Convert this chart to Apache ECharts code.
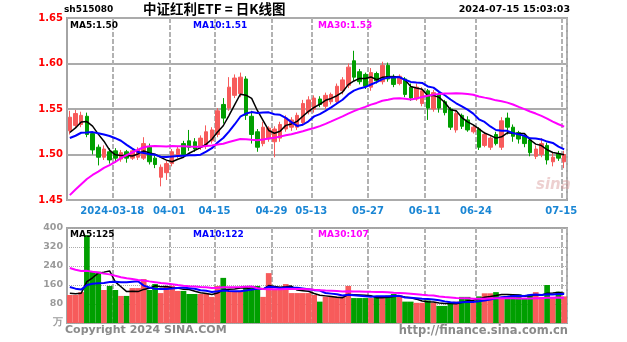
<!DOCTYPE html>
<html>
<head>
<meta charset="utf-8">
<script src="https://cdn.jsdelivr.net/npm/echarts@6/dist/echarts.min.js"></script>
<style>
html,body{margin:0;padding:0;background:#fff;}
#chart{width:627px;height:342px;}
</style>
</head>
<body>
<div id="chart"></div>
<script>
// trading sessions shown on the chart
const dates = [
  '2024-03-06','2024-03-07','2024-03-08','2024-03-11','2024-03-12','2024-03-13','2024-03-14','2024-03-15',
  '2024-03-18','2024-03-19','2024-03-20','2024-03-21','2024-03-22','2024-03-25','2024-03-26','2024-03-27',
  '2024-03-28','2024-03-29',
  '2024-04-01','2024-04-02','2024-04-03','2024-04-08','2024-04-09','2024-04-10','2024-04-11','2024-04-12',
  '2024-04-15','2024-04-16','2024-04-17','2024-04-18','2024-04-19','2024-04-22','2024-04-23','2024-04-24',
  '2024-04-25','2024-04-26','2024-04-29','2024-04-30',
  '2024-05-06','2024-05-07','2024-05-08','2024-05-09','2024-05-10','2024-05-13','2024-05-14','2024-05-15',
  '2024-05-16','2024-05-17','2024-05-20','2024-05-21','2024-05-22','2024-05-23','2024-05-24','2024-05-27',
  '2024-05-28','2024-05-29','2024-05-30','2024-05-31',
  '2024-06-03','2024-06-04','2024-06-05','2024-06-06','2024-06-07','2024-06-11','2024-06-12','2024-06-13',
  '2024-06-14','2024-06-17','2024-06-18','2024-06-19','2024-06-20','2024-06-21','2024-06-24','2024-06-25',
  '2024-06-26','2024-06-27','2024-06-28',
  '2024-07-01','2024-07-02','2024-07-03','2024-07-04','2024-07-05','2024-07-08','2024-07-09','2024-07-10',
  '2024-07-11','2024-07-12','2024-07-15'
];

const openP = [
  1.526,1.532,1.533,1.542,1.523,1.508,1.497,1.503,1.504,1.495,1.503,1.496,1.497,1.496,1.508,1.496,
  1.475,1.480,1.490,1.499,1.512,1.515,1.514,1.508,1.510,1.515,1.522,1.555,1.551,1.565,1.567,1.583,
  1.542,1.525,1.512,1.517,1.514,1.518,1.528,1.530,1.530,1.535,1.547,1.550,1.561,1.553,1.558,1.558,
  1.570,1.576,1.603,1.591,1.588,1.574,1.589,1.580,1.598,1.585,1.578,1.583,1.574,1.561,1.556,1.570,
  1.550,1.566,1.558,1.550,1.527,1.543,1.538,1.525,1.528,1.510,1.508,1.522,1.508,1.540,1.530,1.524,
  1.520,1.516,1.498,1.500,1.510,1.492,1.501,1.492
];
const closeP = [
  1.541,1.545,1.543,1.522,1.505,1.497,1.506,1.494,1.496,1.502,1.496,1.504,1.505,1.512,1.492,1.489,
  1.486,1.490,1.503,1.506,1.500,1.508,1.506,1.518,1.525,1.527,1.548,1.540,1.574,1.584,1.585,1.543,
  1.522,1.508,1.530,1.529,1.528,1.533,1.540,1.538,1.543,1.556,1.560,1.562,1.555,1.565,1.566,1.575,
  1.582,1.596,1.585,1.580,1.575,1.590,1.581,1.598,1.583,1.577,1.586,1.566,1.562,1.574,1.570,1.551,
  1.568,1.551,1.546,1.530,1.545,1.531,1.527,1.530,1.508,1.522,1.518,1.512,1.537,1.530,1.520,1.517,
  1.512,1.502,1.506,1.512,1.494,1.497,1.496,1.500
];
const highP = [
  1.548,1.549,1.547,1.546,1.525,1.511,1.510,1.507,1.507,1.505,1.505,1.507,1.508,1.519,1.512,1.499,
  1.489,1.493,1.506,1.509,1.515,1.527,1.518,1.521,1.532,1.530,1.551,1.562,1.585,1.588,1.590,1.586,
  1.548,1.528,1.536,1.531,1.531,1.536,1.543,1.541,1.546,1.560,1.564,1.565,1.564,1.568,1.568,1.578,
  1.585,1.600,1.614,1.594,1.590,1.595,1.591,1.602,1.601,1.588,1.588,1.585,1.578,1.578,1.574,1.572,
  1.571,1.568,1.560,1.552,1.548,1.545,1.542,1.532,1.530,1.525,1.520,1.525,1.541,1.546,1.533,1.526,
  1.522,1.518,1.510,1.518,1.513,1.502,1.504,1.504
];
const lowP = [
  1.522,1.529,1.530,1.519,1.500,1.488,1.494,1.490,1.491,1.492,1.491,1.494,1.494,1.494,1.489,1.485,
  1.465,1.472,1.487,1.496,1.497,1.504,1.503,1.505,1.506,1.512,1.519,1.534,1.548,1.562,1.563,1.538,
  1.512,1.503,1.509,1.514,1.497,1.514,1.525,1.526,1.527,1.532,1.544,1.546,1.552,1.550,1.555,1.555,
  1.566,1.573,1.581,1.577,1.572,1.570,1.578,1.577,1.580,1.574,1.576,1.563,1.559,1.559,1.553,1.538,
  1.547,1.546,1.543,1.527,1.524,1.528,1.525,1.523,1.505,1.508,1.505,1.510,1.505,1.522,1.514,1.512,
  1.508,1.498,1.495,1.497,1.489,1.487,1.493,1.485
];
// daily volume (万手)
const volume = [
  118,118,130,370,216,216,139,156,139,114,114,147,147,185,139,164,
  126,156,156,135,135,122,122,122,122,110,156,190,131,131,131,156,
  156,156,110,210,139,139,164,126,126,126,126,118,90,111,111,111,
  111,156,105,105,105,105,110,105,115,122,115,90,90,85,85,95,
  85,72,72,85,90,110,110,85,112,125,125,130,110,110,120,120,
  105,120,130,110,160,110,132,112
];

// sessions before the visible range, needed by the moving averages
const priorClose = [
  1.36,1.37,1.35,1.37,1.39,1.38,1.40,1.39,1.38,1.40,1.41,1.42,1.43,
  1.46,1.48,1.49,1.50,1.49,1.51,1.50,1.52,
  1.51,1.52,1.50,1.51,1.52,1.51,1.52,1.53
];
const priorVolume = [
  320,290,360,340,300,280,250,320,290,260,240,270,250,240,260,240,220,250,230,210,
  190,170,180,160,190,130,120,125,135
];

const tickDates  = ['2024-03-18','2024-04-01','2024-04-15','2024-04-29','2024-05-13','2024-05-27','2024-06-11','2024-06-24','2024-07-15'];
const tickLabels = ['2024-03-18','04-01','04-15','04-29','05-13','05-27','06-11','06-24','07-15'];
const priceAxis = {min: 1.45, max: 1.65, step: 0.05};
const volumeAxis = {min: 0, max: 400, step: 80};

const UP = '#f75b5b', DOWN = '#009f00';
const MA_COLORS = {5: '#000000', 10: '#0000ff', 30: '#ff00ff'};

function movingAvg(prior, vals, n) {
  const all = prior.concat(vals);
  const off = prior.length;
  return vals.map((_, i) => {
    let s = 0;
    for (let k = 0; k < n; k++) s += all[off + i - k];
    return s / n;
  });
}

const tickSet = new Set(tickDates);
const labelOf = {};
tickDates.forEach((d, i) => { labelOf[d] = tickLabels[i]; });

const kData = dates.map((d, i) => [openP[i], closeP[i], lowP[i], highP[i]]);
const volData = volume.map((v, i) => ({
  value: v,
  itemStyle: {color: closeP[i] >= openP[i] ? UP : DOWN}
}));

const periods = [5, 10, 30];
const priceMA = {}, volMA = {};
periods.forEach(n => {
  priceMA[n] = movingAvg(priorClose, closeP, n);
  volMA[n] = movingAvg(priorVolume, volume, n);
});
const last = a => a[a.length - 1];

const FONT = '"DejaVu Sans", Arial, sans-serif';
const gridLineV = {show: true, interval: (i, v) => tickSet.has(v), lineStyle: {color: '#b2b2b2', width: 2, type: [5, 2]}};

const series = [
  {
    type: 'candlestick', xAxisIndex: 0, yAxisIndex: 0, data: kData, barWidth: 4,
    itemStyle: {color: UP, color0: DOWN, borderColor: UP, borderColor0: DOWN, borderWidth: 1}
  }
];
periods.forEach(n => {
  series.push({
    type: 'line', xAxisIndex: 0, yAxisIndex: 0, data: priceMA[n], symbol: 'none', z: 3,
    lineStyle: {color: MA_COLORS[n], width: n === 5 ? 1.5 : 2}
  });
});
series.push({
  type: 'bar', xAxisIndex: 1, yAxisIndex: 1, data: volData, barCategoryGap: '0%'
});
periods.forEach(n => {
  series.push({
    type: 'line', xAxisIndex: 1, yAxisIndex: 1, data: volMA[n], symbol: 'none', z: 3,
    lineStyle: {color: MA_COLORS[n], width: n === 5 ? 1.5 : 2}
  });
});

function maText(x, y, text, color) {
  return {type: 'text', left: x, top: y, z: 10,
    style: {text: text, fill: color, font: 'bold 9px ' + FONT}};
}

const chart = echarts.init(document.getElementById('chart'), null, {renderer: 'canvas'});
chart.setOption({
  animation: false,
  backgroundColor: '#ffffff',
  grid: [
    {left: 67, top: 18, width: 500, height: 182, show: true, borderColor: '#a4a4a4', borderWidth: 2, backgroundColor: 'transparent'},
    {left: 67, top: 228, width: 500, height: 95, show: true, borderColor: '#a4a4a4', borderWidth: 2, backgroundColor: 'transparent'}
  ],
  xAxis: [
    {
      type: 'category', gridIndex: 0, data: dates, boundaryGap: true,
      axisLine: {show: false}, axisTick: {show: false},
      axisLabel: {
        interval: (i, v) => tickSet.has(v), formatter: v => labelOf[v] || '',
        color: '#1a86d4', fontWeight: 'bold', fontSize: 10, fontFamily: FONT, margin: 6,
        padding: [0, 6, 0, 0]
      },
      splitLine: gridLineV
    },
    {
      type: 'category', gridIndex: 1, data: dates, boundaryGap: true,
      axisLine: {show: false}, axisTick: {show: false}, axisLabel: {show: false},
      splitLine: gridLineV
    }
  ],
  yAxis: [
    {
      type: 'value', gridIndex: 0, min: priceAxis.min, max: priceAxis.max, interval: priceAxis.step,
      axisLine: {show: false}, axisTick: {show: false},
      axisLabel: {color: '#ff0000', fontWeight: 'bold', fontSize: 10, fontFamily: FONT, margin: 4,
        formatter: v => v.toFixed(2)},
      splitLine: {lineStyle: {color: '#ababab', width: 2}}
    },
    {
      type: 'value', gridIndex: 1, min: volumeAxis.min, max: volumeAxis.max, interval: volumeAxis.step,
      axisLine: {show: false}, axisTick: {show: false},
      axisLabel: {color: '#9a9a9a', fontWeight: 'bold', fontSize: 9.5, fontFamily: FONT, margin: 4,
        formatter: v => v === 0 ? '万' : String(v)},
      splitLine: {lineStyle: {color: '#ababab', width: 1, type: 'dotted'}}
    }
  ],
  series: series,
  graphic: [
    {type: 'text', left: 64, top: 5, style: {text: 'sh515080', fill: '#000', font: 'bold 9px ' + FONT}},
    {type: 'text', left: 143, top: 2, style: {text: '中证红利ETF = 日K线图', fill: '#000', font: 'bold 13.5px "Noto Sans CJK SC"'}},
    {type: 'text', right: 57, top: 5, style: {text: '2024-07-15 15:03:03', fill: '#000', font: 'bold 9.5px ' + FONT}},
    maText(70, 21, 'MA5:' + last(priceMA[5]).toFixed(2), '#000'),
    maText(193, 21, 'MA10:' + last(priceMA[10]).toFixed(2), '#0000ff'),
    maText(318, 21, 'MA30:' + last(priceMA[30]).toFixed(2), '#ff00ff'),
    maText(70, 230, 'MA5:' + Math.round(last(volMA[5])), '#000'),
    maText(193, 230, 'MA10:' + Math.round(last(volMA[10])), '#0000ff'),
    maText(318, 230, 'MA30:' + Math.round(last(volMA[30])), '#ff00ff'),
    {type: 'text', left: 536, top: 178, z: 1, style: {text: 'sina', fill: 'rgba(215,150,150,0.45)', font: 'italic bold 15px ' + FONT}},
    {type: 'text', left: 65, top: 325, style: {text: 'Copyright 2024 SINA.COM', fill: '#8a8a8a', font: 'bold 11px ' + FONT}},
    {type: 'text', right: 59, top: 325, style: {text: 'http://finance.sina.com.cn', fill: '#8a8a8a', font: 'bold 11.5px ' + FONT}}
  ]
});
</script>
</body>
</html>
